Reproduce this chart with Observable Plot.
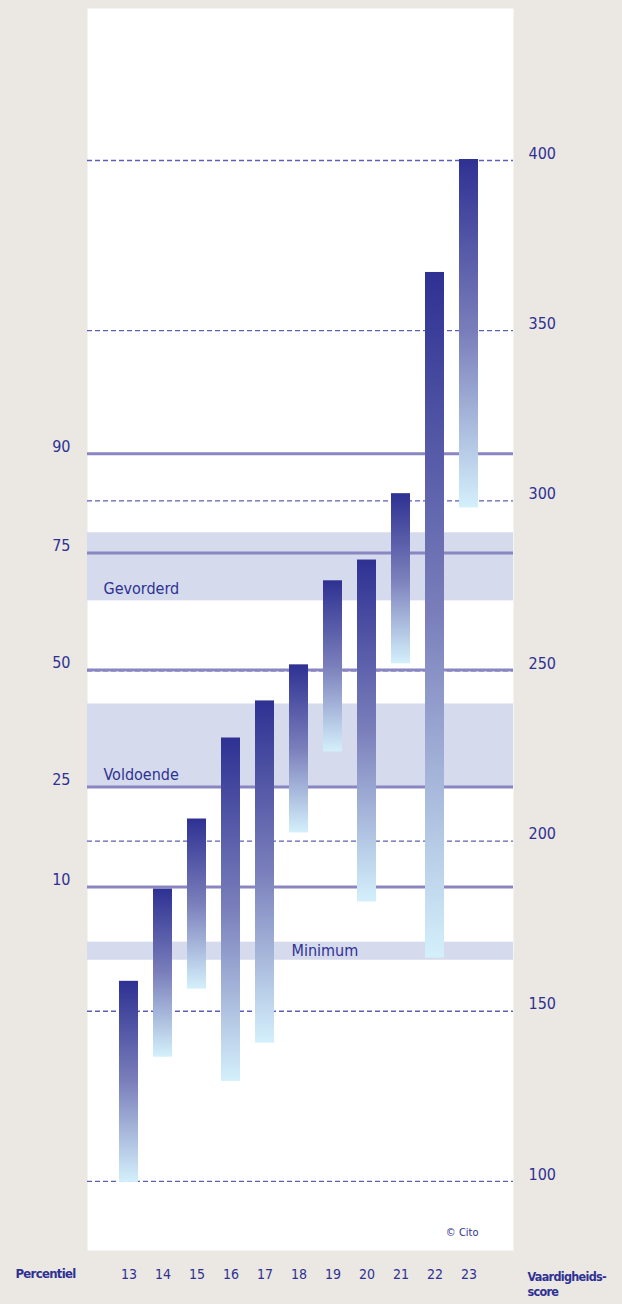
<!DOCTYPE html>
<html>
<head>
<meta charset="utf-8">
<script src="https://cdn.jsdelivr.net/npm/d3@7"></script>
<script src="https://cdn.jsdelivr.net/npm/@observablehq/plot@0.6"></script>
<style>
  html, body { margin: 0; padding: 0; background: #ebe7e3; }
  #chart svg { display: block; }
  .tight text { letter-spacing: -0.7px; }
</style>
</head>
<body>
<div id="chart"></div>
<script>
// Groups (leerjaar/groep codes) along the bottom
const categories = [13, 14, 15, 16, 17, 18, 19, 20, 21, 22, 23];
// Range of each bar on the Vaardigheidsscore scale
const barTop    = [158.8, 185.9, 206.5, 230.3, 241.2, 251.8, 276.5, 282.6, 302.1, 367.1, 400.3];
const barBottom = [ 99.7, 136.5, 156.5, 129.4, 140.6, 202.4, 226.2, 182.1, 252.1, 165.6, 297.9];
// Percentile lines and their scores
const percentiles = [90, 75, 50, 25, 10];
const percentileScores = [313.8, 284.7, 250.3, 215.9, 186.5];
// Reference levels (bands)
const levels = ["Gevorderd", "Voldoende", "Minimum"];
const levelTop = [290.6, 240.3, 170.3];
const levelBottom = [270.6, 215.9, 165.0];
// Score ticks
const scoreTicks = [100, 150, 200, 250, 300, 350, 400];

const navy = "#2e3192";
const font = "'Liberation Sans Narrow', 'DejaVu Sans Condensed', 'Open Sans', sans-serif";

const bars = categories.map((c, i) => ({cat: c, top: barTop[i], bottom: barBottom[i]}));
const pct = percentiles.map((p, i) => ({p, score: percentileScores[i]}));
const bands = levels.map((l, i) => ({label: l, top: levelTop[i], bottom: levelBottom[i]}));

const defs = () => {
  const ns = "http://www.w3.org/2000/svg";
  const g = document.createElementNS(ns, "g");
  g.innerHTML = `<defs><linearGradient id="barGrad" x1="0" y1="0" x2="0" y2="1">
    <stop offset="0" stop-color="#2e3192"/>
    <stop offset="0.5" stop-color="#7a7fbb"/>
    <stop offset="1" stop-color="#d4f0fb"/>
  </linearGradient></defs>`;
  return g;
};

const chart = Plot.plot({
  width: 622,
  height: 1304,
  marginLeft: 87,
  marginRight: 109,
  marginTop: 8,
  marginBottom: 54,
  style: {background: "#ebe7e3", fontFamily: font, fontStretch: "condensed", color: navy},
  x: {type: "band", domain: categories, range: [112, 486], paddingInner: 0.44, paddingOuter: 0.22, align: 0.5},
  y: {domain: [79.7, 444.67]},
  marks: [
    defs,
    Plot.frame({fill: "white", stroke: "none"}),
    Plot.rect(bands, {y1: "bottom", y2: "top", fill: "#d5daed"}),
    Plot.ruleY(scoreTicks, {stroke: "#5b5fb8", strokeWidth: 1.3, strokeDasharray: "5,3"}),
    Plot.ruleY(pct, {y: "score", stroke: "#8986c2", strokeWidth: 3}),
    Plot.barY(bars, {x: "cat", y1: "bottom", y2: "top", fill: "url(#barGrad)"}),
    Plot.text(bands.filter(d => d.label !== "Minimum"), {y: "bottom", text: "label", frameAnchor: "left", dx: 16, dy: -12, textAnchor: "start", fontSize: 16, fill: navy}),
    Plot.text(bands.filter(d => d.label === "Minimum"), {y: "bottom", text: "label", frameAnchor: "left", dx: 204, dy: -9, textAnchor: "start", fontSize: 16, fill: navy}),
    Plot.text(pct, {y: "score", text: "p", frameAnchor: "left", dx: -17, dy: -7, textAnchor: "end", fontSize: 16, fill: navy}),
    Plot.axisY(scoreTicks, {anchor: "right", tickSize: 0, tickPadding: 15, dy: -7, fontSize: 16, fill: navy, label: null}),
    Plot.axisX({anchor: "bottom", tickSize: 0, tickPadding: 19, fontSize: 14, fill: navy, label: null}),
    Plot.text(["Percentiel"], {frameAnchor: "bottom-left", dx: -72, dy: 27, textAnchor: "start", fontSize: 13, fontWeight: "bold", fill: navy, className: "tight"}),
    Plot.text(["Vaardigheids-\nscore"], {frameAnchor: "bottom-right", dx: 14, dy: 19, textAnchor: "start", lineAnchor: "top", lineHeight: 1.25, fontSize: 12.5, fontWeight: "bold", fill: navy, className: "tight"}),
    Plot.text(["© Cito"], {frameAnchor: "bottom-right", dx: -35, dy: -15, textAnchor: "end", fontSize: 11, fill: navy})
  ]
});
document.getElementById("chart").append(chart);
</script>
</body>
</html>
